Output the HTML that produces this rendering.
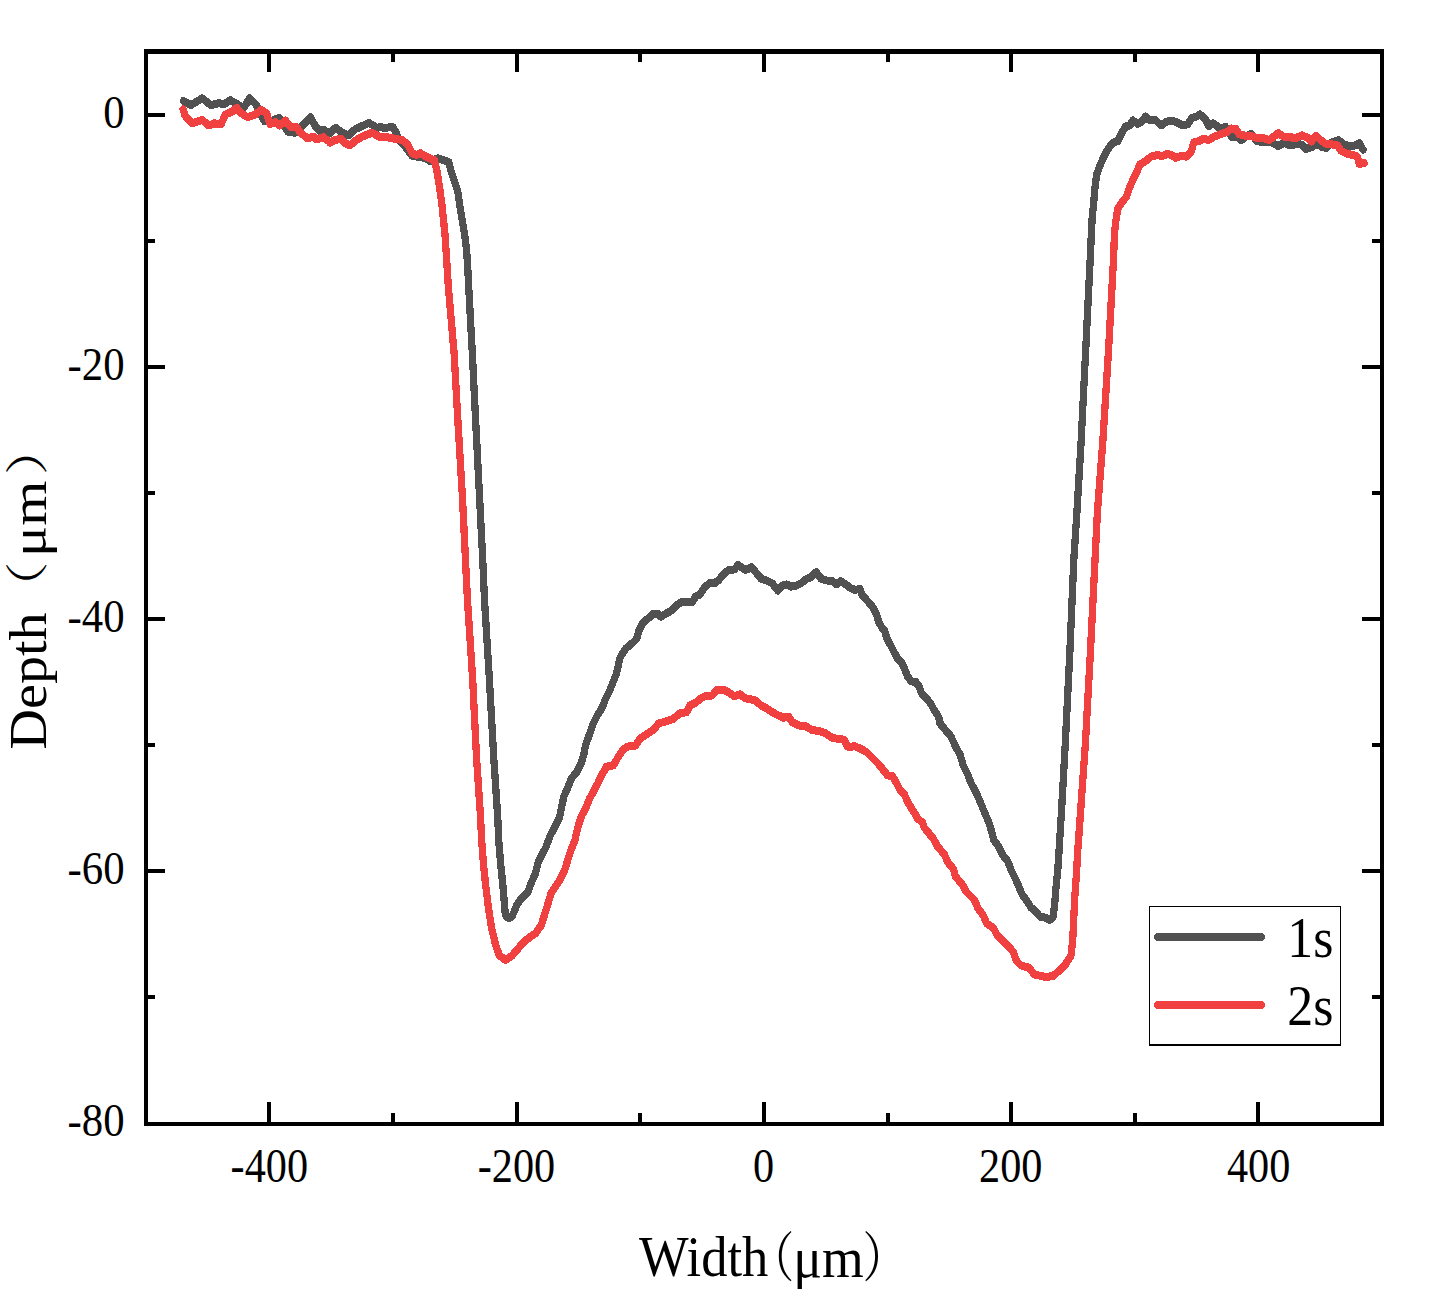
<!DOCTYPE html>
<html lang="en"><head><meta charset="utf-8"><title>Depth profile</title>
<style>html,body{margin:0;padding:0;background:#fff}svg{display:block}text{font-family:"Liberation Serif","Noto Serif CJK SC",serif;fill:#000}</style></head><body>
<svg width="1441" height="1315" viewBox="0 0 1441 1315">
<rect width="1441" height="1315" fill="#fff"/>
<polyline transform="scale(0.91,1)" points="201.5,100.9 210,105 222.2,98.3 232,105.3 240.5,103.1 245.4,104.4 253.3,100.3 260,103.9 268,107.8 274.1,98.3 280.8,103.9 285.6,112.2 290.5,121.1 296.6,121.6 307,117.8 312.5,126.6 316.8,132 324.7,132.7 330.8,126.6 341.2,117.2 346.7,126.6 351.5,131.1 355.8,130 362.6,133.3 368.7,127.8 376.1,132.7 383.4,135.5 390.7,128.9 396.8,126.6 405.3,122.8 413.9,127.8 418.8,127.1 423.6,128.1 428.5,127.1 432.2,127.5 435.9,134 439,141 444.2,145.1 452.7,155.7 457.1,156.5 467.5,158 473,161.4 481.1,158.4 489,160.5 493.2,162.2 495.7,171.1 499.3,181.1 503,191.1 505.4,206.6 507.9,219.9 510.9,236.6 512.8,251 514,267.7 515,286 519,353 523,426 527.1,499 530.5,559.8 532.4,600 537.8,679.1 542.6,758.2 547,817.5 548,840 550,862.2 552.5,884.4 554.6,906.6 555.2,913.8 556.5,917.2 559.2,918.1 562.6,916.6 565,911.6 567.7,905.5 572.6,898.8 579.9,892.2 583.6,883.3 588.5,873.3 591.5,862.2 595.8,854.4 600.1,846.7 604.4,836 610.5,825.5 614.8,817.7 617.2,806.6 619.6,796.6 623.9,787.7 627.6,778.8 633.7,772.2 638.6,763.3 641.6,754.4 643.4,745.5 647.7,734.4 652,723.3 656.9,714.4 661.7,707.8 665.4,698.9 670.3,690 672.2,685.5 677.6,673.2 681.3,657.7 687.4,648.8 694.7,643.3 699.6,638.8 702,631.1 706.9,622.2 711.8,618.8 717.9,613.8 722.8,613.8 726.4,616.6 732.5,613.3 738.7,610 743.5,605.5 749.6,601.6 757,601.6 760.6,602.2 764.3,596.6 769.2,594.4 774,587.8 780.1,582.8 785,583.3 789.9,580 794.8,574.4 800.9,570 807,569.4 811.2,565 819.3,570 826,567.2 831.5,573.3 836.4,578.8 842.5,580.5 848.6,583.3 854.7,590.5 860.2,585.5 864.4,584.4 869.3,586.6 874.2,586.1 880.3,583.3 886.4,578.8 891.3,577.2 896.8,572.2 902.3,578.8 908.4,580.5 914.5,581.1 919.3,584.4 923.6,581.1 929.1,584.4 935.2,588.3 939.5,590 945,588.8 947.4,595.5 953.5,601.1 959.6,607.7 963.3,614.4 965.7,622.2 970.6,629.9 971.8,630 974.8,638.9 978.6,645.1 982.4,651.9 986.1,658.1 991.4,663.5 994.4,669.7 997.4,676.5 1001.2,681.3 1006.4,682 1010.2,686.8 1012.5,693 1017.7,697.8 1023,703.9 1026,709.4 1030.5,715.6 1032.8,720 1032.9,723.3 1039,730 1045.1,736.6 1050,746.6 1054.9,754.4 1058.5,765.5 1063.4,774.4 1067.1,783.3 1071.9,791 1076.8,801 1081.7,812.1 1086.6,822.1 1090.2,833.2 1092.1,840 1097.6,846.7 1101.3,854.4 1107.4,861.1 1111,870 1115.9,878.9 1119.6,886.6 1123.2,894.4 1129.3,902.2 1133,907.7 1137.9,911.1 1142.8,916.6 1148.9,917.7 1153.7,919.9 1157.4,916.6 1159.2,902.2 1160.5,886.6 1162.3,871.1 1163.5,855.5 1164.5,840 1166.5,811 1170.7,742.5 1175.7,651.3 1180,560 1183.5,511 1188,442.5 1193,351.3 1198,260 1199.2,236 1200.2,217.7 1202,201 1203.3,187.7 1205.1,174.4 1208.8,165.5 1213.6,155.5 1218.5,147.7 1223.4,142.7 1228.3,141.1 1233.2,132.2 1236.8,126.6 1241.7,125.5 1244.8,120.5 1250.2,123.9 1253.9,122.2 1258.8,116.6 1263.7,120.5 1269.8,120 1275.9,125.5 1282,121.6 1288.1,120.5 1293,122.2 1299.1,125 1305.2,124.4 1310,117.8 1314.9,116.6 1318.6,114.4 1324.7,119.4 1328.3,126.1 1333.2,123.3 1338.1,126.6 1340.7,128.9 1346.5,126.6 1349.1,131.9 1354.3,137.2 1359.5,136.6 1364,140.2 1369.9,135.9 1375,133.8 1381.5,141.3 1389.3,141.9 1397.1,142.5 1404.9,146.1 1411.3,142.5 1417.8,145.5 1425.6,143.7 1430.8,144.9 1435.3,149 1441.2,147.2 1447.6,143.7 1452.8,147.2 1457.4,147.8 1463.2,142.5 1471,140.2 1476.2,144.3 1483.3,146.1 1489.1,145.5 1493.7,143.1 1496.9,148.4 1497.9,149.6" fill="none" stroke="#515151" stroke-width="8.0" stroke-linejoin="round" stroke-linecap="round" shape-rendering="crispEdges"/>
<polyline transform="scale(0.91,1)" points="201.2,109.4 203.3,115.5 211.2,123.3 222.2,120 229.5,125.5 235.6,123.3 242.9,124.4 247.8,114.4 255.1,111.6 260,107.8 264.9,113.3 272.2,117.2 280.8,114.4 286.9,109.8 293,113.3 296.6,123.9 302.7,122.2 307.6,125.5 313.7,120.5 318.6,126.6 325.9,127.2 330.8,133.3 338.1,138.3 344.2,136.6 347.9,139.4 355.2,137.2 362.6,142.2 362.6,142.7 367.5,140 374.8,138.9 379.7,143.3 384.6,145.5 390.7,140.5 398,136.6 409,132.7 416.3,136.6 424.9,137.2 434.6,138.9 441.9,140 448,144.4 452.9,153.3 457.7,155 461.8,153.2 469.2,157 477.4,160.3 480.4,172.2 482.9,186.6 485.3,202.2 487.1,217.7 489,234.4 490.2,251 491.4,267.7 492.6,286 499,353 503.5,426 508.3,499 511.5,559.8 513.7,600 519.4,679.1 523.7,758.2 528.1,817.5 529.3,840 531.1,862.2 533.6,884.4 536.6,906.6 540.3,928.8 544.5,944.4 548.8,955.5 555.5,959.9 562.8,955.5 570.2,947.7 575.1,942.2 582.4,937.2 588.5,933.3 594.6,925.5 598.2,915.5 601.9,904.4 605.6,893.3 610.4,886.6 615.3,880 620.2,871.1 623.9,860 627.5,850 631.8,840 635.5,825.5 639.2,815.5 643.4,808.8 647.7,798.8 653.2,789.9 656.9,783.3 661.7,774.4 666.6,766.6 673.9,765.5 678.8,757.7 684.3,750 689.8,746.6 698.3,745.5 703.2,738.9 710.5,734.4 717.9,730 724,723.3 731.3,721.6 739.8,718.9 747.1,713.3 754.5,712.2 758.1,705.5 764.3,702.7 770.4,698.3 776.5,695.5 782.6,695.5 787.5,690 796.1,690 802.2,693.3 807,696.1 813.1,694.4 819.2,698.3 825.4,699.4 830.2,700.5 836.3,705.5 842.4,708.3 848.5,712.2 854.6,715 860.7,717.7 866.8,716.6 870.5,722.2 877.8,725.5 885.1,726.1 892.5,730 899.8,731.1 907.1,733.3 915.6,738.3 923,738.8 927.8,739.9 931.5,746.6 934.1,747.2 938.9,746.1 946.3,748.9 952.4,752.2 958.5,757.7 964.6,763.3 970.7,770 975.5,775.5 980.4,775.5 985.3,783.3 989,789.9 993.8,794.4 997.5,802.2 1001.2,807.7 1006,814.4 1008.5,818.8 1013.4,822.1 1015.8,827.7 1020.7,833.2 1025.6,838.8 1030.5,846.7 1037.8,854.4 1041.5,862.2 1047.6,868.9 1050,876.6 1057.4,884.4 1062.2,892.2 1070.8,900 1074.4,907.7 1080.5,915.5 1084.2,923.3 1091.5,927.7 1095.2,934.4 1102.5,941 1108.6,946.6 1113.5,952.1 1117.1,961 1122,965.5 1130.6,967.7 1136.7,974.4 1144,976 1148.9,977.1 1157.4,976 1164.7,969.9 1170.8,964.4 1176.9,955.5 1178.8,939.9 1180,917.7 1181.2,895.5 1183,873.3 1184.3,851.1 1185.2,840 1187.5,811 1192.8,742.5 1198.3,651.3 1203.3,560 1206,511 1211.8,442.5 1218.1,351.3 1223.6,260 1224.6,236 1225.8,223.2 1228.3,208.8 1233.2,202.1 1238,196.6 1241.7,186.6 1245.4,178.8 1250.2,169.9 1252.7,164.4 1258.8,161.1 1264.9,156.6 1272.2,155 1277.1,156.1 1283.2,153.8 1288.1,155.5 1291.7,157.7 1297.8,156.1 1303.9,156.6 1308.8,152.2 1311.9,142.2 1317.4,141.1 1322.2,138.9 1328.3,140 1334.4,136.6 1340.7,134.4 1342.6,133.7 1349.1,131.9 1353,128.4 1358.2,129 1362.1,134.3 1368.6,135.8 1375,136.2 1381.5,138 1388,137.8 1394.5,140.2 1399.7,136.6 1404.9,133.1 1410,136.6 1416.5,136.6 1423,138.4 1430.8,135.4 1437.3,137.8 1441.2,141.3 1446.3,136 1451.5,140.2 1456.7,143.7 1463.2,144.3 1469.7,145.5 1473.6,150.8 1480.1,153.7 1486.5,154.9 1491.7,156.7 1493.7,163.8 1498.9,163.2" fill="none" stroke="#f14040" stroke-width="8.0" stroke-linejoin="round" stroke-linecap="round" shape-rendering="crispEdges"/>
<path d="M144 49H1384V1126H144ZM148 54V1122H1380V54Z" fill="#000" fill-rule="evenodd"/>
<path d="M267 1102h4v20h-4zM267 54h4v18h-4zM391 1113h4v9h-4zM391 54h4v8h-4zM515 1102h4v20h-4zM515 54h4v18h-4zM638 1113h4v9h-4zM638 54h4v8h-4zM762 1102h4v20h-4zM762 54h4v18h-4zM886 1113h4v9h-4zM886 54h4v8h-4zM1009 1102h4v20h-4zM1009 54h4v18h-4zM1133 1113h4v9h-4zM1133 54h4v8h-4zM1256 1102h4v20h-4zM1256 54h4v18h-4zM148 995h7v4h-7zM1372 995h8v4h-8zM148 869h17v4h-17zM1362 869h18v4h-18zM148 743h7v4h-7zM1372 743h8v4h-8zM148 617h17v4h-17zM1362 617h18v4h-18zM148 491h7v4h-7zM1372 491h8v4h-8zM148 365h17v4h-17zM1362 365h18v4h-18zM148 239h7v4h-7zM1372 239h8v4h-8zM148 113h17v4h-17zM1362 113h18v4h-18z" fill="#000"/>
<text transform="translate(230.6,1182.1) scale(0.88,1)" font-size="48">-400</text>
<text transform="translate(477.8,1182.1) scale(0.88,1)" font-size="48">-200</text>
<text transform="translate(753.1,1182.1) scale(0.88,1)" font-size="48">0</text>
<text transform="translate(979.1,1182.1) scale(0.88,1)" font-size="48">200</text>
<text transform="translate(1226.9,1182.1) scale(0.88,1)" font-size="48">400</text>
<text transform="translate(67.6,1135.6) scale(0.892,0.977)" font-size="48">-80</text>
<text transform="translate(67.6,883.6) scale(0.892,0.977)" font-size="48">-60</text>
<text transform="translate(67.6,631.6) scale(0.892,0.977)" font-size="48">-40</text>
<text transform="translate(67.6,379.6) scale(0.892,0.977)" font-size="48">-20</text>
<text transform="translate(103.3,127.6) scale(0.892,0.977)" font-size="48">0</text>
<text transform="translate(639.1,1276.3) scale(0.9226,0.989)" font-size="57">Width</text>
<text transform="translate(750.1,1277.1) scale(0.7758,0.9439)" font-size="57">（</text>
<text transform="translate(793.2,1276.5) scale(0.941,0.989)" font-size="57">μm</text>
<text transform="translate(862.4,1277.1) scale(0.7818,0.9439)" font-size="57">）</text>
<text transform="translate(46.2,749.4) rotate(-90) scale(0.9829,0.9115)" font-size="57">Depth</text>
<text transform="translate(43.3,614.5) rotate(-90) scale(0.9333,0.7589)" font-size="57">（</text>
<text transform="translate(46.2,556.9) rotate(-90) scale(1.0187,0.9019)" font-size="57">μm</text>
<text transform="translate(43.3,475.3) rotate(-90) scale(0.9273,0.7589)" font-size="57">）</text>
<path d="M1149 906H1341V1046H1149ZM1150 907V1044H1340V907Z" fill="#000" fill-rule="evenodd"/>
<line x1="1158.2" y1="937" x2="1261" y2="937" stroke="#515151" stroke-width="8" stroke-linecap="round" shape-rendering="crispEdges"/>
<line x1="1158.2" y1="1005" x2="1261" y2="1005" stroke="#f14040" stroke-width="8" stroke-linecap="round" shape-rendering="crispEdges"/>
<text transform="translate(1287.3,956.8) scale(0.91,1.005)" font-size="57">1s</text>
<text transform="translate(1287.3,1025.3) scale(0.91,1.005)" font-size="57">2s</text>
</svg></body></html>
